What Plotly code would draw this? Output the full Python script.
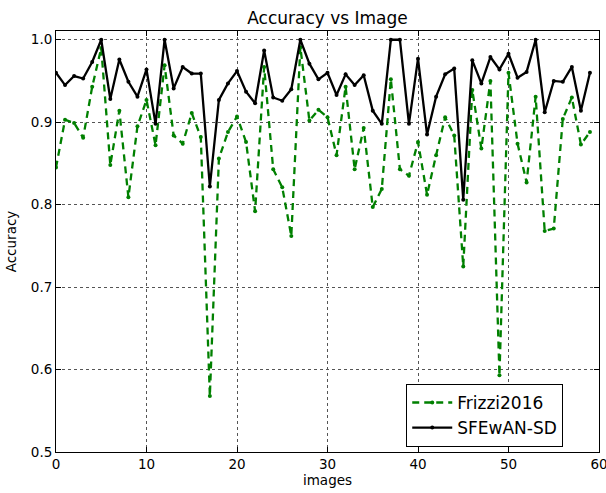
import plotly.graph_objects as go

images = list(range(60))
frizzi2016 = [0.845, 0.903, 0.899, 0.881, 0.943, 0.990, 0.848, 0.914, 0.809, 0.895,
              0.927, 0.872, 0.969, 0.884, 0.874, 0.911, 0.882, 0.568, 0.856, 0.888,
              0.907, 0.876, 0.792, 0.967, 0.843, 0.821, 0.762, 0.991, 0.902, 0.915,
              0.906, 0.860, 0.943, 0.843, 0.893, 0.797, 0.819, 0.952, 0.843, 0.835,
              0.876, 0.812, 0.860, 0.906, 0.884, 0.725, 0.939, 0.868, 0.950, 0.593,
              0.960, 0.874, 0.827, 0.931, 0.768, 0.771, 0.904, 0.930, 0.873, 0.888]
sfewan_sd = [0.960, 0.945, 0.956, 0.953, 0.973, 1.000, 0.928, 0.976, 0.949, 0.931,
             0.964, 0.898, 1.000, 0.941, 0.967, 0.959, 0.959, 0.822, 0.927, 0.947,
             0.962, 0.937, 0.923, 0.987, 0.930, 0.926, 0.940, 1.000, 0.971, 0.952,
             0.960, 0.933, 0.958, 0.945, 0.957, 0.914, 0.898, 1.000, 1.000, 0.898,
             0.977, 0.885, 0.931, 0.958, 0.965, 0.806, 0.975, 0.947, 0.979, 0.964,
             0.983, 0.954, 0.961, 1.000, 0.912, 0.950, 0.949, 0.967, 0.914, 0.960]

x_ticks = [0, 10, 20, 30, 40, 50, 60]
y_ticks = [0.5, 0.6, 0.7, 0.8, 0.9, 1.0]
y_tick_labels = ["0.5", "0.6", "0.7", "0.8", "0.9", "1.0"]

fig = go.Figure()
fig.add_trace(go.Scatter(
    x=images, y=frizzi2016, name="Frizzi2016", mode="lines+markers",
    line=dict(color="#008000", width=2.3, dash="7px,5px"),
    marker=dict(color="#008000", size=4),
))
fig.add_trace(go.Scatter(
    x=images, y=sfewan_sd, name="SFEwAN-SD", mode="lines+markers",
    line=dict(color="black", width=2.3),
    marker=dict(color="black", size=4),
))

axis_common = dict(
    showgrid=True, gridcolor="#555555", griddash="dot", gridwidth=1,
    showline=True, linecolor="black", linewidth=1, mirror="allticks",
    ticks="inside", ticklen=5, tickcolor="black", ticklabeloverflow="allow",
    automargin=False,
    zeroline=False, tickfont=dict(family="DejaVu Sans", size=13.5, color="black"),
)

fig.update_layout(
    width=606, height=493,
    margin=dict(l=56, r=7, t=31, b=41),
    paper_bgcolor="white", plot_bgcolor="white",
    font=dict(family="DejaVu Sans", color="black"),
    title=dict(text="Accuracy vs Image", xref="paper", x=0.5, xanchor="center",
               y=0.963, yanchor="middle",
               font=dict(family="DejaVu Sans", size=17, color="black")),
    xaxis=dict(range=[0, 60], tickvals=x_ticks,
               title=dict(text="images", font=dict(size=13.5), standoff=4), **axis_common),
    yaxis=dict(range=[0.5, 1.0106], tickvals=y_ticks, ticktext=y_tick_labels,
               title=dict(text="Accuracy", font=dict(size=13.5), standoff=11), **axis_common),
    legend=dict(x=0.645, y=0.012, xanchor="left", yanchor="bottom",
                bgcolor="white", bordercolor="black", borderwidth=1,
                font=dict(family="DejaVu Sans", size=17, color="black"),
                itemwidth=40, tracegroupgap=0),
    showlegend=True,
)

fig.write_html("out.html")
